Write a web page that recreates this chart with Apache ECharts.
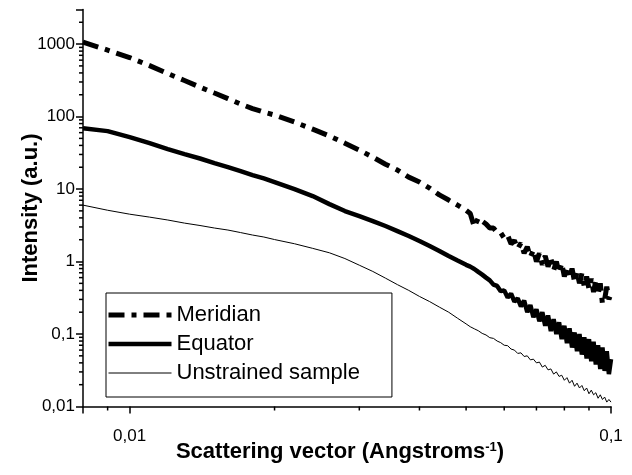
<!DOCTYPE html>
<html>
<head>
<meta charset="utf-8">
<script src="https://cdn.jsdelivr.net/npm/echarts@6/dist/echarts.min.js"></script>
<style>
  html, body { margin: 0; padding: 0; background: #fff; }
  #chart { width: 632px; height: 475px; }
</style>
</head>
<body>
<div id="chart"></div>
<script>
// scattering vector (1/Angstrom), shared by all three curves
const q = [
  0.008, 0.009, 0.010, 0.011, 0.012, 0.013, 0.014, 0.015, 0.016, 0.017, 0.018, 0.019, 0.020,
  0.022, 0.024, 0.026, 0.028, 0.030, 0.032, 0.034, 0.036, 0.038, 0.040, 0.042, 0.044, 0.046, 0.048, 0.050,
  0.051, 0.052, 0.053, 0.054, 0.055, 0.056, 0.057, 0.058, 0.059, 0.060,
  0.061, 0.062, 0.063, 0.064, 0.065, 0.066, 0.067, 0.068, 0.069, 0.070,
  0.071, 0.072, 0.073, 0.074, 0.075, 0.076, 0.077, 0.078, 0.079, 0.080,
  0.081, 0.082, 0.083, 0.084, 0.085, 0.086, 0.087, 0.088, 0.089, 0.090,
  0.091, 0.092, 0.093, 0.094, 0.095, 0.096, 0.097, 0.098, 0.099, 0.100
];

const meridian = [
  1066, 826, 652, 505, 392, 314, 255, 211, 177, 149, 129, 115, 105,
  84, 67, 54, 43, 34.5, 27.6, 22, 18.3, 14.6, 12.5, 10.3, 8.3, 7.05, 6.0, 5.1,
  4.6, 3.0, 4.0, 3.6, 3.3, 2.9, 2.9, 2.5, 2.5, 2.1,
  2.3, 1.75, 1.95, 1.5, 1.8, 1.3, 1.6, 1.15, 1.45, 1.0,
  1.3, 0.9, 1.2, 0.85, 1.1, 0.75, 1.0, 0.7, 0.95, 0.62,
  0.85, 0.6, 0.8, 0.52, 0.72, 0.5, 0.68, 0.45, 0.62, 0.42,
  0.58, 0.38, 0.55, 0.35, 0.5, 0.26, 0.3, 0.45, 0.3, 0.36
];

const equator = [
  69, 63, 52, 43, 35.6, 30.4, 26.4, 22.8, 20.1, 17.7, 15.6, 14.0, 12.5,
  10, 8.0, 6.2, 4.97, 4.24, 3.62, 3.09, 2.63, 2.25, 1.92, 1.64, 1.40, 1.19, 1.03, 0.90,
  0.85, 0.79, 0.72, 0.66, 0.60, 0.55, 0.48, 0.46, 0.39, 0.40,
  0.32, 0.36, 0.28, 0.31, 0.24, 0.29, 0.20, 0.25, 0.17, 0.22,
  0.15, 0.20, 0.13, 0.18, 0.11, 0.16, 0.10, 0.145, 0.085, 0.13,
  0.075, 0.12, 0.065, 0.105, 0.058, 0.10, 0.052, 0.09, 0.046, 0.085,
  0.042, 0.078, 0.038, 0.07, 0.033, 0.065, 0.031, 0.058, 0.028, 0.045
];

const unstrained = [
  6.0, 5.1, 4.5, 4.1, 3.74, 3.39, 3.14, 2.9, 2.72, 2.51, 2.32, 2.18, 2.01,
  1.76, 1.52, 1.32, 1.10, 0.89, 0.73, 0.59, 0.48, 0.40, 0.33, 0.28, 0.235, 0.20, 0.165, 0.138,
  0.126, 0.118, 0.111, 0.102, 0.097, 0.089, 0.087, 0.080, 0.076, 0.070,
  0.069, 0.062, 0.060, 0.054, 0.055, 0.049, 0.050, 0.044, 0.045, 0.040,
  0.041, 0.035, 0.037, 0.032, 0.033, 0.028, 0.030, 0.026, 0.027, 0.023,
  0.025, 0.021, 0.023, 0.019, 0.021, 0.018, 0.0195, 0.0165, 0.018, 0.015,
  0.0168, 0.0145, 0.0155, 0.013, 0.0145, 0.0125, 0.0135, 0.0115, 0.0125, 0.0115
];

const xMin = 0.008, xMax = 0.1;
const yMin = 0.01, yMax = 3000;
const xMinorTicks = [0.009, 0.02, 0.03, 0.04, 0.05, 0.06, 0.07, 0.08, 0.09];
const yMinorTicks = [
  0.02, 0.03, 0.04, 0.05, 0.06, 0.07, 0.08, 0.09,
  0.2, 0.3, 0.4, 0.5, 0.6, 0.7, 0.8, 0.9,
  2, 3, 4, 5, 6, 7, 8, 9,
  20, 30, 40, 50, 60, 70, 80, 90,
  200, 300, 400, 500, 600, 700, 800, 900,
  2000
];

const FONT = "'Liberation Sans', Arial, sans-serif";

function decadeLabel(v) {
  const lg = Math.log10(v);
  const e = Math.round(lg);
  if (Math.abs(lg - e) > 1e-6) return '';
  return e >= 0 ? String(Math.pow(10, e)) : Math.pow(10, e).toFixed(-e).replace('.', ',');
}

function pairs(ys) {
  return q.map((x, i) => [x, ys[i]]);
}

const chart = echarts.init(document.getElementById('chart'));

const option = {
  animation: false,
  backgroundColor: '#fff',
  textStyle: { fontFamily: FONT, color: '#000' },
  grid: { left: 83, right: 21, top: 9.5, bottom: 68.5 },
  legend: {
    data: ['Meridian', 'Equator', 'Unstrained sample'],
    orient: 'vertical',
    left: 106,
    top: 293,
    padding: [11, 32, 13, 0],
    itemWidth: 63,
    itemHeight: 14,
    itemGap: 7,
    backgroundColor: '#fff',
    borderColor: '#000',
    borderWidth: 1,
    itemStyle: { opacity: 0 },
    lineStyle: { width: 'inherit', type: 'inherit' },
    textStyle: { fontFamily: FONT, fontSize: 22, color: '#000' }
  },
  xAxis: {
    type: 'log',
    logBase: 10,
    min: xMin,
    max: xMax,
    name: 'Scattering vector (Angstroms{s|-1})',
    nameLocation: 'middle',
    nameGap: 34,
    nameMoveOverlap: false,
    nameTextStyle: {
      fontFamily: FONT, fontSize: 22, fontWeight: 'bold', color: '#000',
      padding: [0, 14, 0, 0],
      rich: { s: { fontFamily: FONT, fontSize: 13, fontWeight: 'bold', color: '#000', verticalAlign: 'top' } }
    },
    axisLine: { lineStyle: { color: '#000', width: 1.5 } },
    axisTick: { inside: false, length: 7, lineStyle: { color: '#000', width: 1.5 } },
    axisLabel: { margin: 21, fontFamily: FONT, fontSize: 17, color: '#000', formatter: decadeLabel },
    splitLine: { show: false }
  },
  yAxis: {
    type: 'log',
    logBase: 10,
    min: yMin,
    max: yMax,
    name: 'Intensity (a.u.)',
    nameLocation: 'middle',
    nameGap: 41,
    nameMoveOverlap: false,
    nameTextStyle: { fontFamily: FONT, fontSize: 22, fontWeight: 'bold', color: '#000' },
    axisLine: { show: true, lineStyle: { color: '#000', width: 1.5 } },
    axisTick: { inside: false, length: 7, lineStyle: { color: '#000', width: 1.5 } },
    axisLabel: { margin: 8, fontFamily: FONT, fontSize: 17, color: '#000', formatter: decadeLabel },
    splitLine: { show: false }
  },
  series: [
    {
      name: 'Meridian',
      type: 'line',
      symbol: 'none',
      data: pairs(meridian),
      lineStyle: { color: '#000', width: 5, type: [16, 7, 5, 7], cap: 'butt' },
      itemStyle: { color: '#000' },
      z: 3
    },
    {
      name: 'Equator',
      type: 'line',
      symbol: 'none',
      data: pairs(equator),
      lineStyle: { color: '#000', width: 4.5 },
      itemStyle: { color: '#000' },
      z: 3
    },
    {
      name: 'Unstrained sample',
      type: 'line',
      symbol: 'none',
      data: pairs(unstrained),
      lineStyle: { color: '#000', width: 1 },
      itemStyle: { color: '#000' },
      z: 3
    },
    {
      // minor ticks on the x axis
      type: 'custom',
      silent: true,
      clip: false,
      data: xMinorTicks.map(v => [v, yMin]),
      renderItem: function (params, api) {
        const p = api.coord([api.value(0), yMin]);
        return {
          type: 'line',
          shape: { x1: p[0], y1: p[1], x2: p[0], y2: p[1] + 4 },
          style: { stroke: '#000', lineWidth: 1.5 }
        };
      }
    },
    {
      // minor ticks on the y axis
      type: 'custom',
      silent: true,
      clip: false,
      data: yMinorTicks.map(v => [xMin, v]),
      renderItem: function (params, api) {
        const p = api.coord([xMin, api.value(1)]);
        return {
          type: 'line',
          shape: { x1: p[0], y1: p[1], x2: p[0] - 4, y2: p[1] },
          style: { stroke: '#000', lineWidth: 1.5 }
        };
      }
    }
  ]
};

chart.setOption(option);
</script>
</body>
</html>
